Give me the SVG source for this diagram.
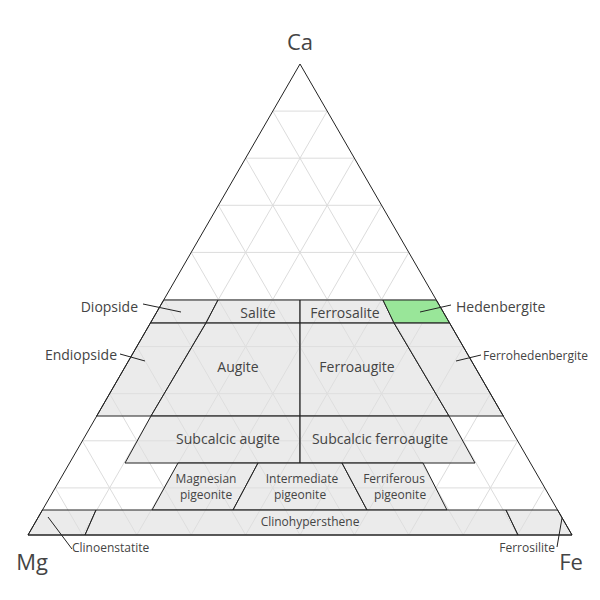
<svg xmlns="http://www.w3.org/2000/svg" width="600" height="600" viewBox="0 0 600 600">
<style>
text{font-family:"Open Sans","Liberation Sans",sans-serif;fill:#444}
.g{stroke:#dcdcdc;stroke-width:1;fill:none}
.r{fill:#dedede;fill-opacity:0.62;stroke:#222;stroke-width:1}
.h{fill:#99e699;stroke:#222;stroke-width:1}
.l{stroke:#222;stroke-width:1;fill:none}
.big{font-size:22px}
.m{font-size:14px;text-anchor:middle}
.s{font-size:12px;text-anchor:middle}
.c{font-size:14px}
</style>
<rect width="600" height="600" fill="#fff"/>
<g id="grid">
<path class="g" d="M55.2,487.9H544.8M82.4,440.8H517.6M109.6,393.7H490.4M136.8,346.6H463.2M164,299.5H436M191.2,252.4H408.8M218.4,205.3H381.6M245.6,158.2H354.4M272.8,111.1H327.2
M82.4,535L327.2,111.1M136.8,535L354.4,158.2M191.2,535L381.6,205.3M245.6,535L408.8,252.4M300,535L436,299.5M354.4,535L463.2,346.6M408.8,535L490.4,393.7M463.2,535L517.6,440.8M517.6,535L544.8,487.9
M517.6,535L272.8,111.1M463.2,535L245.6,158.2M408.8,535L218.4,205.3M354.4,535L191.2,252.4M300,535L164,299.5M245.6,535L136.8,346.6M191.2,535L109.6,393.7M136.8,535L82.4,440.8M82.4,535L55.2,487.9"/>
</g>
<g id="diopside"><polygon class="r" points="163.7,300 218,300 206,323 150.4,323"/></g>
<g id="salite"><polygon class="r" points="218,300 300,300 300,323 206,323"/><text class="m" x="258" y="318">Salite</text></g>
<g id="ferrosalite"><polygon class="r" points="300,300 383,300 394,323 300,323"/><text class="m" x="345" y="318">Ferrosalite</text></g>
<g id="hedenbergite"><polygon class="h" points="383,300 436.3,300 449.6,323 394,323"/></g>
<g id="endiopside"><polygon class="r" points="150.4,323 206,323 151,416 96.7,416"/></g>
<g id="augite"><polygon class="r" points="206,323 300,323 300,416 151,416"/><text class="m" x="238" y="372">Augite</text></g>
<g id="ferroaugite"><polygon class="r" points="300,323 394,323 449,416 300,416"/><text class="m" x="357" y="372">Ferroaugite</text></g>
<g id="ferrohedenbergite"><polygon class="r" points="394,323 449.6,323 503.3,416 449,416"/></g>
<g id="subcalcic-augite"><polygon class="r" points="151,416 300,416 300,463 125,463"/><text class="m" x="228" y="444">Subcalcic augite</text></g>
<g id="subcalcic-ferroaugite"><polygon class="r" points="300,416 449,416 475,463 300,463"/><text class="m" x="380" y="444">Subcalcic ferroaugite</text></g>
<g id="magnesian-pigeonite"><polygon class="r" points="178,463 258,463 233,510 152,510"/><text class="s" x="206" y="483">Magnesian</text><text class="s" x="206" y="499">pigeonite</text></g>
<g id="intermediate-pigeonite"><polygon class="r" points="258,463 342,463 367,510 233,510"/><text class="s" x="302" y="483">Intermediate</text><text class="s" x="300" y="499">pigeonite</text></g>
<g id="ferriferous-pigeonite"><polygon class="r" points="342,463 423,463 447,510 367,510"/><text class="s" x="394" y="483">Ferriferous</text><text class="s" x="400" y="499">pigeonite</text></g>
<g id="clinoenstatite"><polygon class="r" points="42.4,510 96,510 85,535 28,535"/><text x="72" y="552" style="font-size:12px">Clinoenstatite</text></g>
<g id="clinohypersthene"><polygon class="r" points="96,510 506,510 518,535 85,535"/><text class="s" x="310" y="526">Clinohypersthene</text></g>
<g id="ferrosilite"><polygon class="r" points="506,510 557.6,510 572,535 518,535"/><text x="555" y="552" style="font-size:12px;text-anchor:end">Ferrosilite</text></g>
<g id="triangle"><polygon points="300,64 572,535 28,535" fill="none" stroke="#222" stroke-width="1"/></g>
<g id="labels">
<text class="big" x="300" y="50" text-anchor="middle">Ca</text>
<text class="big" x="32" y="570" text-anchor="middle">Mg</text>
<text class="big" x="571" y="570" text-anchor="middle">Fe</text>
<text class="c" x="138" y="312" text-anchor="end">Diopside</text>
<text class="c" x="117" y="360" text-anchor="end">Endiopside</text>
<text class="c" x="456" y="312">Hedenbergite</text>
<text x="483" y="360" style="font-size:12px">Ferrohedenbergite</text>
</g>
<g id="connectors">
<path class="l" d="M143,304L181,312M120,354L145,361M451,305L420,312M481,355L456,361M48,517L72,549M562,518L557,547"/>
</g>
</svg>
